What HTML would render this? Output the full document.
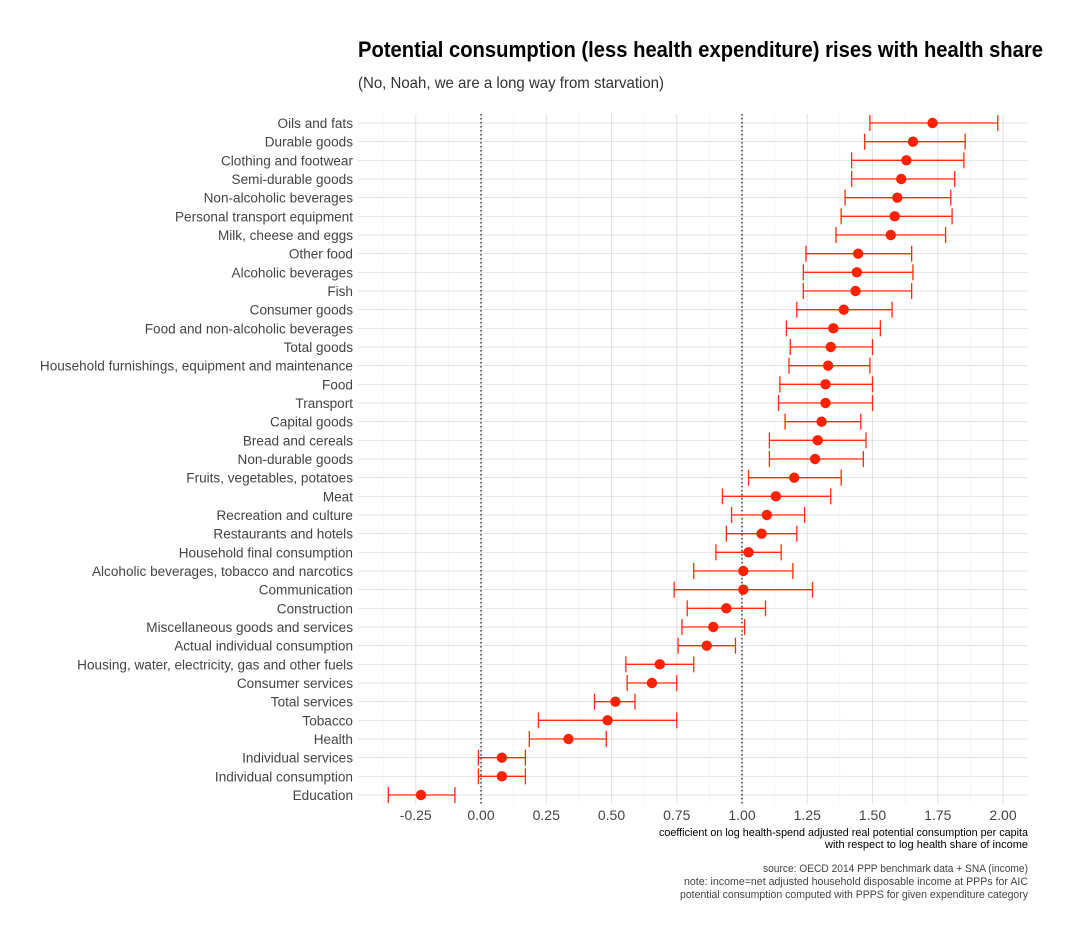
<!DOCTYPE html>
<html><head><meta charset="utf-8"><style>
body{margin:0;background:#fff;}
svg text{font-family:"Liberation Sans Narrow","Liberation Sans",sans-serif;}
</style></head><body>
<svg id="chart" width="1068" height="941" xmlns="http://www.w3.org/2000/svg">
<text x="358" y="57" font-size="22" font-weight="bold" fill="#000" textLength="685" lengthAdjust="spacingAndGlyphs">Potential consumption (less health expenditure) rises with health share</text>
<text x="358" y="88" font-size="16" fill="#333" textLength="306" lengthAdjust="spacingAndGlyphs">(No, Noah, we are a long way from starvation)</text>
<g id="grid"></g><g id="marks"></g><g id="labels"></g>
<text x="1028" y="836" font-size="11" text-anchor="end" fill="#000" textLength="369" lengthAdjust="spacingAndGlyphs">coefficient on log health-spend adjusted real potential consumption per capita</text>
<text x="1028" y="848" font-size="11" text-anchor="end" fill="#000" textLength="203" lengthAdjust="spacingAndGlyphs">with respect to log health share of income</text>
<text x="1028" y="872" font-size="11" text-anchor="end" fill="#444" textLength="265" lengthAdjust="spacingAndGlyphs">source: OECD 2014 PPP benchmark data + SNA (income)</text>
<text x="1028" y="885" font-size="11" text-anchor="end" fill="#444" textLength="344" lengthAdjust="spacingAndGlyphs">note: income=net adjusted household disposable income at PPPs for AIC</text>
<text x="1028" y="898" font-size="11" text-anchor="end" fill="#444" textLength="348" lengthAdjust="spacingAndGlyphs">potential consumption computed with PPPS for given expenditure category</text>
</svg>
<script>
const categories=["Oils and fats","Durable goods","Clothing and footwear","Semi-durable goods","Non-alcoholic beverages","Personal transport equipment","Milk, cheese and eggs","Other food","Alcoholic beverages","Fish","Consumer goods","Food and non-alcoholic beverages","Total goods","Household furnishings, equipment and maintenance","Food","Transport","Capital goods","Bread and cereals","Non-durable goods","Fruits, vegetables, potatoes","Meat","Recreation and culture","Restaurants and hotels","Household final consumption","Alcoholic beverages, tobacco and narcotics","Communication","Construction","Miscellaneous goods and services","Actual individual consumption","Housing, water, electricity, gas and other fuels","Consumer services","Total services","Tobacco","Health","Individual services","Individual consumption","Education"];
const estimates=[1.73,1.655,1.63,1.61,1.595,1.585,1.57,1.445,1.44,1.435,1.39,1.35,1.34,1.33,1.32,1.32,1.305,1.29,1.28,1.20,1.13,1.095,1.075,1.025,1.005,1.005,0.94,0.89,0.865,0.685,0.655,0.515,0.485,0.335,0.08,0.08,-0.23];
const lower=[1.49,1.47,1.42,1.42,1.395,1.38,1.36,1.245,1.235,1.235,1.21,1.17,1.185,1.18,1.145,1.14,1.165,1.105,1.105,1.025,0.925,0.96,0.94,0.90,0.815,0.74,0.79,0.77,0.755,0.555,0.56,0.435,0.22,0.185,-0.01,-0.01,-0.355];
const upper=[1.98,1.855,1.85,1.815,1.80,1.805,1.78,1.65,1.655,1.65,1.575,1.53,1.50,1.49,1.50,1.50,1.455,1.475,1.465,1.38,1.34,1.24,1.21,1.15,1.195,1.27,1.09,1.01,0.975,0.815,0.75,0.59,0.75,0.48,0.17,0.17,-0.10];
const xTicks=[-0.25,0,0.25,0.5,0.75,1,1.25,1.5,1.75,2];
const xTickLabels=["-0.25","0.00","0.25","0.50","0.75","1.00","1.25","1.50","1.75","2.00"];
const refLines=[0,1];
const NS="http://www.w3.org/2000/svg";
const L=358,R=1028,T=114,B=804;
const x=v=>481+v*261;
const y=i=>123+i*(795-123)/(categories.length-1);
function mk(tag,attrs,parent){const e=document.createElementNS(NS,tag);for(const k in attrs)e.setAttribute(k,attrs[k]);parent.appendChild(e);return e;}
const grid=document.getElementById('grid'),marks=document.getElementById('marks'),labels=document.getElementById('labels');


const catG=mk('g',{transform:'translate(353,0) scale(0.97,1) translate(-353,0)'},labels);


for(let k=0;k<xTicks.length+1;k++){const v=xTicks[0]-0.125+k*0.25;if(x(v)>R)break;const e=mk('line',{x1:x(v),x2:x(v),y1:T,y2:B,stroke:'#f0f0f0','stroke-width':0.6},grid);

}
xTicks.forEach((v,k)=>{const e=mk('line',{x1:x(v),x2:x(v),y1:T,y2:B,stroke:'#e2e2e2','stroke-width':1},grid);


const t=mk('text',{x:x(v),y:820,'font-size':14,'text-anchor':'middle',fill:'#444'},labels);t.textContent=xTickLabels[k];

});
categories.forEach((c,i)=>{const e=mk('line',{x1:L,x2:R,y1:y(i),y2:y(i),stroke:'#e2e2e2','stroke-width':1},grid);


const t=mk('text',{x:353,y:y(i)+5,'font-size':14,'text-anchor':'end',fill:'#444'},catG);t.textContent=c;

});
refLines.forEach(v=>{const e=mk('line',{x1:x(v),x2:x(v),y1:T,y2:B,stroke:'#222','stroke-width':1.3,'stroke-dasharray':'1.5,2.5'},grid);

});
categories.forEach((c,i)=>{const g=mk('g',{},marks);


const yy=y(i),s={stroke:'#ff2a0a','stroke-width':1.3};
mk('line',Object.assign({x1:x(lower[i]),x2:x(upper[i]),y1:yy,y2:yy},s),g);
mk('line',Object.assign({x1:x(lower[i]),x2:x(lower[i]),y1:yy-8,y2:yy+8},s),g);
mk('line',Object.assign({x1:x(upper[i]),x2:x(upper[i]),y1:yy-8,y2:yy+8},s),g);
const p=mk('circle',{cx:x(estimates[i]),cy:yy,r:5.2,fill:'#ff2200'},g);

});
</script>
</body></html>
